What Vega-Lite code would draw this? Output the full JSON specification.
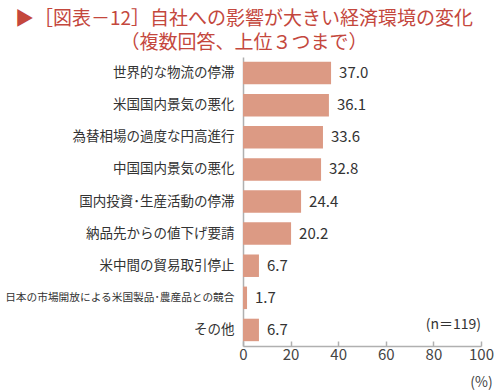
{
  "$schema": "https://vega.github.io/schema/vega-lite/v6.json",
  "autosize": {"type": "none"},
  "width": 238,
  "height": 289,
  "padding": {"left": 243, "top": 57, "right": 19, "bottom": 46},
  "background": "white",
  "title": {
    "text": "▶［図表－12］自社への影響が大きい経済環境の変化",
    "subtitle": "（複数回答、上位３つまで）",
    "font": "Noto Sans CJK JP",
    "fontSize": 19,
    "fontWeight": "normal",
    "color": "#c4473d",
    "subtitleFont": "Noto Sans CJK JP",
    "subtitleFontSize": 19,
    "subtitleColor": "#c4473d",
    "subtitlePadding": 5,
    "anchor": "middle",
    "frame": "group",
    "dx": -118,
    "offset": 4
  },
  "config": {
    "view": {"stroke": null},
    "font": "Noto Sans CJK JP"
  },
  "data": {
    "values": [
      {"item": "世界的な物流の停滞", "value": 37.0},
      {"item": "米国国内景気の悪化", "value": 36.1},
      {"item": "為替相場の過度な円高進行", "value": 33.6},
      {"item": "中国国内景気の悪化", "value": 32.8},
      {"item": "国内投資･生産活動の停滞", "value": 24.4},
      {"item": "納品先からの値下げ要請", "value": 20.2},
      {"item": "米中間の貿易取引停止", "value": 6.7},
      {"item": "日本の市場開放による米国製品･農産品との競合", "value": 1.7},
      {"item": "その他", "value": 6.7}
    ]
  },
  "encoding": {
    "y": {
      "field": "item",
      "type": "nominal",
      "sort": null,
      "scale": {"paddingInner": 0.3, "paddingOuter": 0.15},
      "axis": {
        "title": null,
        "ticks": false,
        "labelPadding": 9,
        "labelFontSize": {"condition": {"test": "length(datum.label) > 15", "value": 10.7}, "value": 13.5},
        "labelColor": "#333333",
        "labelFont": "Noto Sans CJK JP",
        "domainColor": "#b0b0b0",
        "domainWidth": 1.5,
        "labelLimit": 300
      }
    }
  },
  "layer": [
    {
      "mark": {"type": "bar", "color": "#dc9a84"},
      "encoding": {
        "x": {
          "field": "value",
          "type": "quantitative",
          "scale": {"domain": [0, 100]},
          "axis": {
            "values": [0, 20, 40, 60, 80, 100],
            "grid": false,
            "title": "(%)",
            "titleFontSize": 14,
            "titleFontWeight": "normal",
            "titleColor": "#444444",
            "titleFont": "Noto Sans CJK JP",
            "titleAnchor": "end",
            "titleAlign": "center",
            "titleBaseline": "middle",
            "titleX": 238,
            "titleY": 36,
            "labelFontSize": 15,
            "labelColor": "#444444",
            "labelFont": "Noto Sans CJK JP",
            "labelPadding": 6,
            "tickSize": -5,
            "tickColor": "#b0b0b0",
            "tickWidth": 1.5,
            "domainColor": "#b0b0b0",
            "domainWidth": 1.5,
            "labelFlush": false
          }
        }
      }
    },
    {
      "mark": {"type": "text", "align": "left", "dx": 8, "fontSize": 15, "color": "#333333"},
      "encoding": {
        "x": {"field": "value", "type": "quantitative"},
        "text": {"field": "value", "type": "quantitative", "format": ".1f"}
      }
    },
    {
      "data": {"values": [{"item": "その他", "pos": 100, "note": "(n＝119)"}]},
      "mark": {"type": "text", "align": "right", "fontSize": 14, "color": "#333333", "dy": -5},
      "encoding": {
        "x": {"field": "pos", "type": "quantitative"},
        "text": {"field": "note"}
      }
    }
  ]
}
